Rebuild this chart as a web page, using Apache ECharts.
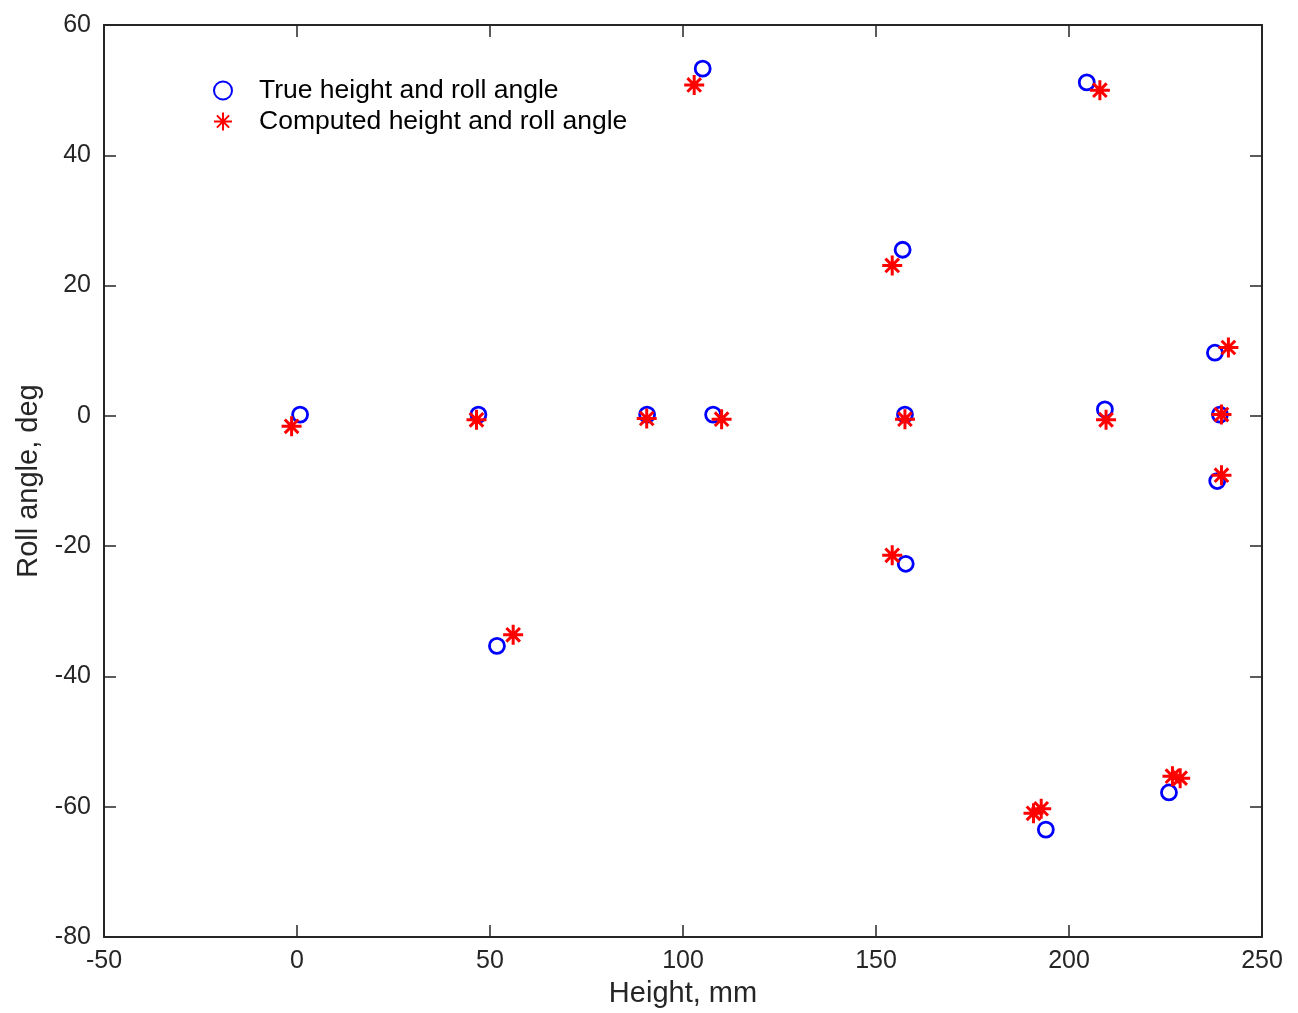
<!DOCTYPE html>
<html>
<head>
<meta charset="utf-8">
<script src="https://cdn.jsdelivr.net/npm/echarts@6/dist/echarts.min.js"></script>
<style>
  html, body { margin: 0; padding: 0; background: #fff; }
  #main { width: 1298px; height: 1013px; }
</style>
</head>
<body>
<div id="main"></div>
<script>
// true height / roll angle (blue circles)
const trueHeight = [0.8, 47.0, 90.7, 107.8, 105.1, 204.6, 156.9, 157.5, 157.7, 51.8, 209.3, 237.8, 239.1, 238.4, 194.0, 225.9]
const trueRoll   = [0.2, 0.2, 0.2, 0.2, 53.3, 51.2, 25.5, 0.2, -22.7, -35.3, 1.0, 9.7, 0.2, -10.0, -63.5, -57.8]
// computed height / roll angle (red stars)
const compHeight = [-1.4, 46.5, 90.6, 110.0, 102.9, 208.0, 154.2, 157.5, 154.2, 56.0, 209.6, 241.3, 239.5, 239.5, 190.8, 192.8, 226.8, 228.8]
const compRoll   = [-1.6, -0.6, -0.4, -0.5, 50.8, 50.0, 23.1, -0.5, -21.4, -33.6, -0.6, 10.5, 0.2, -9.1, -61.0, -60.3, -55.3, -55.6]

const xTicks = [-50, 0, 50, 100, 150, 200, 250]
const yTicks = [-80, -60, -40, -20, 0, 20, 40, 60]

const seriesNames = ['True height and roll angle', 'Computed height and roll angle']

const FONT = '"Liberation Sans", Arial, Helvetica, sans-serif'
const INK = '#262626'
// MATLAB-ish asterisk: + and x
const STAR = 'path://M0 5 L10 5 M5 0 L5 10 M1.6 1.6 L8.4 8.4 M1.6 8.4 L8.4 1.6'

function zip(a, b) {
  return a.map((v, i) => [v, b[i]])
}

function axisCommon(ticks) {
  return {
    min: ticks[0],
    max: ticks[ticks.length - 1],
    interval: ticks[1] - ticks[0],
    axisLine: { show: true, onZero: false, lineStyle: { color: INK, width: 2 } },
    axisTick: { show: true, inside: true, length: 12, lineStyle: { color: INK, width: 1.5 } },
    splitLine: { show: false }
  }
}

let chart = echarts.init(document.getElementById('main'), null, { renderer: 'canvas' })

let option = {
  backgroundColor: '#fff',
  animation: false,
  textStyle: { fontFamily: FONT },
  grid: { left: 104, right: 36, top: 25, bottom: 74, containLabel: false },
  legend: {
    left: 208,
    top: 72,
    orient: 'vertical',
    itemWidth: 62,
    itemHeight: 18,
    itemGap: 4,
    data: seriesNames,
    textStyle: { fontSize: 26.5, color: '#000', fontFamily: FONT }
  },
  xAxis: [
    Object.assign(axisCommon(xTicks), {
      type: 'value',
      position: 'bottom',
      name: 'Height, mm',
      nameLocation: 'middle',
      nameGap: 40,
      nameTextStyle: { fontSize: 29, color: INK, fontFamily: FONT },
      axisLabel: { fontSize: 25, color: INK, margin: 12, fontFamily: FONT }
    }),
    Object.assign(axisCommon(xTicks), {
      type: 'value',
      position: 'top',
      axisLabel: { show: false }
    })
  ],
  yAxis: [
    Object.assign(axisCommon(yTicks), {
      type: 'value',
      position: 'left',
      name: 'Roll angle, deg',
      nameLocation: 'middle',
      nameGap: 60,
      nameRotate: 90,
      nameTextStyle: { fontSize: 29, color: INK, fontFamily: FONT },
      axisLabel: { fontSize: 25, color: INK, margin: 13, fontFamily: FONT }
    }),
    Object.assign(axisCommon(yTicks), {
      type: 'value',
      position: 'right',
      axisLabel: { show: false }
    })
  ],
  series: [
    {
      name: seriesNames[0],
      type: 'scatter',
      xAxisIndex: 0,
      yAxisIndex: 0,
      symbol: 'circle',
      symbolSize: 15,
      itemStyle: { color: 'rgba(0,0,0,0)', borderColor: '#0000ff', borderWidth: 2.8, opacity: 1 },
      data: zip(trueHeight, trueRoll),
      z: 2
    },
    {
      name: seriesNames[1],
      type: 'scatter',
      xAxisIndex: 0,
      yAxisIndex: 0,
      symbol: STAR,
      symbolSize: 20,
      itemStyle: { color: 'rgba(0,0,0,0)', borderColor: '#ff0000', borderWidth: 3, opacity: 1 },
      data: zip(compHeight, compRoll),
      z: 3
    }
  ]
}

chart.setOption(option)
</script>
</body>
</html>
